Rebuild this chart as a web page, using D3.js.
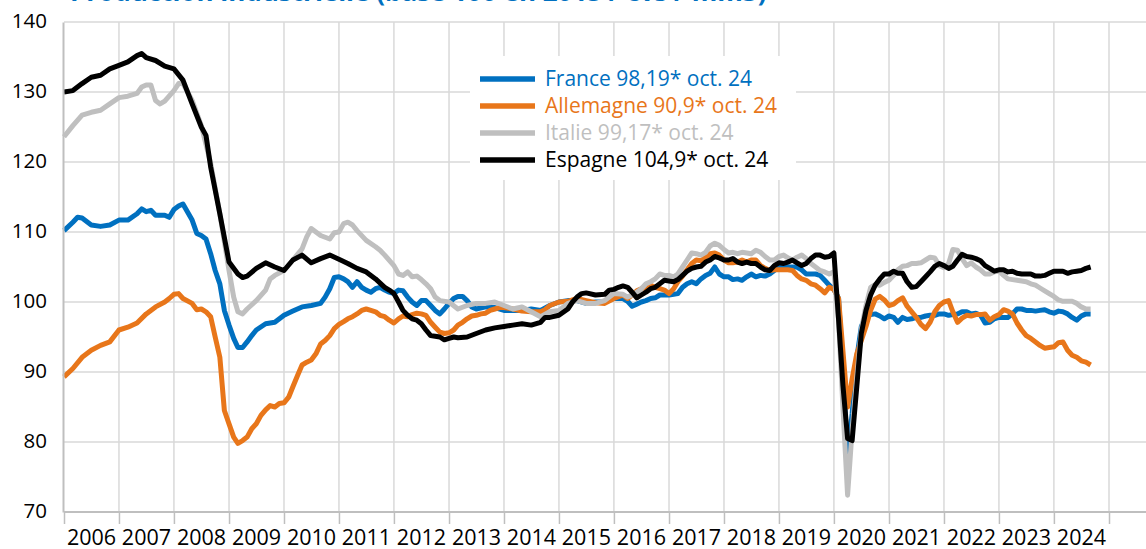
<!DOCTYPE html>
<html>
<head>
<meta charset="utf-8">
<script src="https://cdn.jsdelivr.net/npm/d3@7"></script>
<style>
  html, body { margin: 0; padding: 0; background: #fff; }
  svg { display: block; font-family: "Open Sans", sans-serif; }
</style>
</head>
<body>
<svg id="vis-ip" width="1146" height="549"></svg>
<script>

const years = d3.range(2006, 2025);
const yTicks = [70, 80, 90, 100, 110, 120, 130, 140];

const legendLabels = [
    'France 98,19* oct. 24',
    'Allemagne 90,9* oct. 24',
    'Italie 99,17* oct. 24',
    'Espagne 104,9* oct. 24'
];

const france = [
    ['2006-01',110.2],['2006-03',111.4],['2006-04',112.1],['2006-05',112.0],['2006-07',111.0],['2006-09',110.8],['2006-11',111.0],
    ['2007-01',111.7],['2007-03',111.7],['2007-05',112.6],['2007-06',113.3],['2007-07',112.9],['2007-08',113.1],['2007-09',112.4],['2007-11',112.4],['2007-12',112.1],
    ['2008-01',113.2],['2008-02',113.7],['2008-03',114.0],['2008-05',111.7],['2008-06',109.8],['2008-07',109.5],['2008-08',109.0],['2008-09',106.9],['2008-10',104.5],['2008-11',102.6],['2008-12',98.8],
    ['2009-01',96.7],['2009-02',94.8],['2009-03',93.5],['2009-04',93.5],['2009-05',94.3],['2009-06',95.2],['2009-07',96.0],['2009-09',96.9],['2009-11',97.1],
    ['2010-01',98.1],['2010-03',98.7],['2010-05',99.3],['2010-07',99.5],['2010-09',99.8],['2010-10',100.7],['2010-11',101.9],['2010-12',103.5],
    ['2011-01',103.6],['2011-02',103.3],['2011-03',102.9],['2011-04',102.1],['2011-05',102.9],['2011-06',102.1],['2011-07',101.7],['2011-08',101.4],['2011-09',101.9],['2011-10',102.1],['2011-11',101.7],['2011-12',101.4],
    ['2012-01',101.2],['2012-02',101.7],['2012-03',101.6],['2012-04',100.7],['2012-05',100.0],['2012-06',99.5],['2012-07',100.2],['2012-08',100.2],['2012-09',99.5],['2012-10',98.8],['2012-11',98.3],['2012-12',99.0],
    ['2013-01',99.8],['2013-02',100.5],['2013-03',100.8],['2013-04',100.8],['2013-05',100.2],['2013-06',99.3],['2013-07',99.0],['2013-09',99.3],['2013-11',99.2],
    ['2014-01',98.8],['2014-03',98.8],['2014-05',98.8],['2014-07',99.0],['2014-09',98.8],['2014-11',99.5],
    ['2015-01',100.0],['2015-03',100.2],['2015-05',100.2],['2015-07',99.8],['2015-09',100.0],['2015-11',100.0],
    ['2016-01',100.5],['2016-03',100.5],['2016-04',100.1],['2016-05',99.4],['2016-06',99.7],['2016-07',100.0],['2016-08',100.2],['2016-09',100.5],['2016-10',100.6],['2016-11',101.0],['2016-12',101.0],
    ['2017-01',101.0],['2017-02',101.1],['2017-03',101.2],['2017-04',102.1],['2017-05',102.6],['2017-06',102.9],['2017-07',102.6],['2017-08',103.3],['2017-09',103.8],['2017-10',104.1],['2017-11',105.0],['2017-12',104.0],
    ['2018-01',103.6],['2018-02',103.6],['2018-03',103.2],['2018-04',103.3],['2018-05',103.1],['2018-06',103.6],['2018-07',104.0],['2018-08',103.6],['2018-09',103.8],['2018-10',103.7],['2018-11',104.0],['2018-12',104.5],
    ['2019-01',105.0],['2019-02',105.1],['2019-03',105.0],['2019-04',105.0],['2019-05',105.0],['2019-06',104.6],['2019-07',104.0],['2019-08',104.0],['2019-09',104.0],['2019-10',103.8],['2019-11',103.1],['2019-12',102.4],
    ['2020-01',101.8],['2020-02',100.5],['2020-03',90.0],['2020-04',78.1],['2020-05',84.0],['2020-06',92.0],['2020-07',96.5],['2020-08',98.0],['2020-09',98.2],['2020-10',98.3],['2020-11',98.0],['2020-12',97.6],
    ['2021-01',98.0],['2021-02',97.8],['2021-03',97.1],['2021-04',97.8],['2021-05',97.5],['2021-06',97.6],['2021-07',97.8],['2021-08',97.8],['2021-09',98.0],['2021-10',98.1],['2021-11',98.1],['2021-12',98.3],
    ['2022-01',98.3],['2022-02',98.1],['2022-03',98.2],['2022-04',98.3],['2022-05',98.6],['2022-06',98.6],['2022-07',98.3],['2022-08',98.4],['2022-09',98.1],['2022-10',97.0],['2022-11',97.1],['2022-12',97.6],
    ['2023-01',97.8],['2023-02',97.8],['2023-03',97.8],['2023-04',98.3],['2023-05',99.0],['2023-06',99.0],['2023-07',98.8],['2023-08',98.8],['2023-09',98.7],['2023-10',98.8],['2023-11',98.9],['2023-12',98.6],
    ['2024-01',98.4],['2024-02',98.7],['2024-03',98.6],['2024-04',98.3],['2024-05',97.8],['2024-06',97.4],['2024-07',98.0],['2024-08',98.3],['2024-09',98.3]
];

const allemagne = [
    ['2006-01',89.3],['2006-03',90.5],['2006-05',92.1],['2006-07',93.1],['2006-09',93.8],['2006-11',94.3],
    ['2007-01',96.0],['2007-03',96.4],['2007-05',97.0],['2007-07',98.3],['2007-09',99.3],['2007-11',100.0],['2007-12',100.5],
    ['2008-01',101.1],['2008-02',101.2],['2008-03',100.5],['2008-05',99.8],['2008-06',98.9],['2008-07',99.0],['2008-08',98.6],['2008-09',97.9],['2008-10',95.0],['2008-11',92.1],['2008-12',84.5],
    ['2009-01',82.6],['2009-02',80.7],['2009-03',79.8],['2009-04',80.2],['2009-05',80.7],['2009-06',81.9],['2009-07',82.6],['2009-08',83.8],['2009-09',84.6],['2009-10',85.2],['2009-11',85.0],['2009-12',85.5],
    ['2010-01',85.6],['2010-02',86.4],['2010-03',87.9],['2010-04',89.5],['2010-05',91.0],['2010-06',91.4],['2010-07',91.7],['2010-08',92.6],['2010-09',94.0],['2010-10',94.5],['2010-11',95.2],['2010-12',96.2],
    ['2011-01',96.8],['2011-02',97.2],['2011-03',97.6],['2011-04',97.9],['2011-05',98.3],['2011-06',98.8],['2011-07',99.0],['2011-08',98.8],['2011-09',98.6],['2011-10',98.1],['2011-11',97.9],['2011-12',97.4],
    ['2012-01',97.0],['2012-02',97.6],['2012-03',98.0],['2012-04',97.9],['2012-05',98.2],['2012-06',98.4],['2012-07',98.3],['2012-08',98.1],['2012-09',97.1],['2012-10',96.4],['2012-11',95.7],['2012-12',95.5],
    ['2013-01',95.6],['2013-02',96.0],['2013-03',96.7],['2013-04',97.1],['2013-05',97.6],['2013-06',98.0],['2013-07',98.1],['2013-08',98.3],['2013-09',98.4],['2013-10',98.8],['2013-11',99.0],['2013-12',99.2],
    ['2014-01',99.2],['2014-03',99.0],['2014-05',98.7],['2014-07',98.6],['2014-09',98.6],['2014-10',98.9],['2014-11',99.5],
    ['2015-01',100.0],['2015-03',100.1],['2015-05',100.5],['2015-07',100.2],['2015-09',99.9],['2015-11',99.8],
    ['2016-01',100.5],['2016-03',101.0],['2016-04',100.5],['2016-05',101.0],['2016-06',101.6],['2016-07',101.9],['2016-08',102.1],['2016-09',102.4],['2016-10',102.1],['2016-11',101.9],['2016-12',101.7],
    ['2017-01',101.2],['2017-02',101.9],['2017-03',102.9],['2017-04',103.7],['2017-05',104.6],['2017-06',105.5],['2017-07',106.0],['2017-08',105.9],['2017-09',106.4],['2017-10',106.9],['2017-11',107.0],['2017-12',106.7],
    ['2018-01',106.0],['2018-02',105.6],['2018-03',105.6],['2018-04',105.7],['2018-05',106.0],['2018-06',105.7],['2018-07',106.0],['2018-08',106.0],['2018-09',105.2],['2018-10',104.8],['2018-11',104.5],['2018-12',104.6],
    ['2019-01',104.6],['2019-02',104.6],['2019-03',104.6],['2019-04',104.5],['2019-05',103.8],['2019-06',103.3],['2019-07',103.1],['2019-08',102.6],['2019-09',102.4],['2019-10',101.9],['2019-11',101.3],['2019-12',102.1],
    ['2020-01',101.8],['2020-02',100.5],['2020-03',93.0],['2020-04',85.0],['2020-05',89.0],['2020-06',92.6],['2020-07',94.5],['2020-08',96.5],['2020-09',98.8],['2020-10',100.4],['2020-11',100.8],['2020-12',100.3],
    ['2021-01',99.5],['2021-02',99.7],['2021-03',100.2],['2021-04',100.6],['2021-05',99.4],['2021-06',98.6],['2021-07',97.8],['2021-08',96.8],['2021-09',96.2],['2021-10',97.1],['2021-11',98.6],['2021-12',99.5],
    ['2022-01',100.0],['2022-02',100.2],['2022-03',98.6],['2022-04',97.1],['2022-05',97.7],['2022-06',98.1],['2022-07',98.0],['2022-08',98.2],['2022-09',98.2],['2022-10',98.3],['2022-11',97.4],['2022-12',97.9],
    ['2023-01',98.2],['2023-02',98.9],['2023-03',98.7],['2023-04',98.3],['2023-05',97.0],['2023-06',96.0],['2023-07',95.2],['2023-08',94.8],['2023-09',94.3],['2023-10',93.8],['2023-11',93.4],['2023-12',93.5],
    ['2024-01',93.6],['2024-02',94.2],['2024-03',94.3],['2024-04',93.1],['2024-05',92.4],['2024-06',92.1],['2024-07',91.6],['2024-08',91.4],['2024-09',91.0]
];

const italie = [
    ['2006-01',123.6],['2006-03',125.2],['2006-05',126.7],['2006-07',127.1],['2006-09',127.4],['2006-11',128.3],
    ['2007-01',129.2],['2007-03',129.4],['2007-05',129.8],['2007-06',130.7],['2007-07',131.0],['2007-08',131.0],['2007-09',128.8],['2007-10',128.3],['2007-11',128.7],
    ['2008-01',130.2],['2008-02',131.2],['2008-03',131.2],['2008-05',128.8],['2008-07',125.2],['2008-09',119.8],['2008-11',112.6],
    ['2009-01',104.5],['2009-02',100.7],['2009-03',98.6],['2009-04',98.3],['2009-05',99.0],['2009-07',100.2],['2009-09',101.7],['2009-10',103.3],['2009-11',103.8],
    ['2010-01',104.5],['2010-03',106.0],['2010-05',107.6],['2010-06',109.3],['2010-07',110.5],['2010-09',109.5],['2010-11',109.0],['2010-12',109.9],
    ['2011-01',110.0],['2011-02',111.2],['2011-03',111.4],['2011-04',111.0],['2011-05',110.2],['2011-07',108.8],['2011-09',107.9],['2011-10',107.4],['2011-11',106.7],
    ['2012-01',105.2],['2012-02',104.0],['2012-03',103.8],['2012-04',104.3],['2012-05',103.6],['2012-06',103.7],['2012-07',103.2],['2012-08',102.6],['2012-09',101.9],['2012-10',100.7],['2012-11',100.2],
    ['2013-01',100.0],['2013-03',99.0],['2013-05',99.5],['2013-07',99.8],['2013-09',99.8],['2013-11',100.0],
    ['2014-01',99.5],['2014-03',99.0],['2014-05',99.3],['2014-07',98.6],['2014-09',97.9],['2014-11',98.6],
    ['2015-01',98.8],['2015-03',99.8],['2015-05',100.2],['2015-07',99.8],['2015-09',99.8],['2015-11',100.2],
    ['2016-01',101.2],['2016-03',101.1],['2016-04',100.7],['2016-05',101.0],['2016-06',101.4],['2016-07',101.9],['2016-08',102.6],['2016-09',102.9],['2016-10',103.3],['2016-11',104.0],['2016-12',103.8],
    ['2017-01',103.8],['2017-02',103.6],['2017-03',104.0],['2017-04',105.0],['2017-05',106.0],['2017-06',107.0],['2017-07',106.9],['2017-08',106.7],['2017-09',107.1],['2017-10',108.0],['2017-11',108.4],['2017-12',108.1],
    ['2018-01',107.5],['2018-02',107.0],['2018-03',107.1],['2018-04',106.9],['2018-05',107.1],['2018-06',107.0],['2018-07',106.9],['2018-08',107.4],['2018-09',107.1],['2018-10',106.5],['2018-11',106.0],['2018-12',106.0],
    ['2019-01',106.5],['2019-02',106.7],['2019-03',106.3],['2019-04',106.0],['2019-05',106.4],['2019-06',106.7],['2019-07',106.2],['2019-08',105.5],['2019-09',105.0],['2019-10',104.5],['2019-11',104.3],['2019-12',104.0],
    ['2020-01',104.3],['2020-02',97.4],['2020-03',85.0],['2020-04',72.4],['2020-05',81.7],['2020-06',89.3],['2020-07',96.0],['2020-08',99.5],['2020-09',102.1],['2020-10',102.5],['2020-11',102.4],['2020-12',102.8],
    ['2021-01',103.1],['2021-02',103.8],['2021-03',104.6],['2021-04',105.1],['2021-05',105.2],['2021-06',105.5],['2021-07',105.5],['2021-08',105.6],['2021-09',106.0],['2021-10',106.4],['2021-11',106.3],['2021-12',105.2],
    ['2022-01',104.9],['2022-02',105.5],['2022-03',107.5],['2022-04',107.4],['2022-05',106.2],['2022-06',105.2],['2022-07',105.6],['2022-08',105.0],['2022-09',104.6],['2022-10',104.0],['2022-11',104.0],['2022-12',104.3],
    ['2023-01',104.4],['2023-02',103.8],['2023-03',103.3],['2023-04',103.2],['2023-05',103.1],['2023-06',103.0],['2023-07',102.9],['2023-08',102.6],['2023-09',102.4],['2023-10',102.0],['2023-11',101.6],['2023-12',101.2],
    ['2024-01',100.8],['2024-02',100.3],['2024-03',100.1],['2024-04',100.1],['2024-05',100.1],['2024-06',99.8],['2024-07',99.3],['2024-08',99.0],['2024-09',99.0]
];

const espagne = [
    ['2006-01',130.0],['2006-03',130.2],['2006-05',131.2],['2006-07',132.1],['2006-09',132.4],['2006-11',133.3],
    ['2007-01',133.8],['2007-03',134.3],['2007-05',135.2],['2007-06',135.5],['2007-07',134.9],['2007-09',134.5],['2007-11',133.7],
    ['2008-01',133.3],['2008-03',131.7],['2008-05',128.3],['2008-07',125.0],['2008-08',123.8],['2008-09',119.3],['2008-11',112.6],
    ['2009-01',105.7],['2009-03',104.0],['2009-04',103.5],['2009-05',103.7],['2009-07',104.8],['2009-09',105.6],['2009-11',105.0],
    ['2010-01',104.5],['2010-03',106.0],['2010-05',106.7],['2010-07',105.6],['2010-09',106.2],['2010-11',106.7],
    ['2011-01',106.1],['2011-03',105.5],['2011-05',104.8],['2011-07',104.3],['2011-09',103.3],['2011-11',102.1],['2011-12',101.7],
    ['2012-01',101.2],['2012-02',100.0],['2012-03',98.8],['2012-04',98.1],['2012-05',97.6],['2012-06',97.4],['2012-07',96.9],['2012-08',96.0],['2012-09',95.2],['2012-10',95.1],['2012-11',95.0],['2012-12',94.6],
    ['2013-01',94.8],['2013-02',95.0],['2013-03',94.9],['2013-05',95.0],['2013-07',95.5],['2013-09',96.0],['2013-11',96.3],
    ['2014-01',96.5],['2014-03',96.7],['2014-05',96.9],['2014-07',96.7],['2014-09',97.1],['2014-10',97.8],['2014-11',97.8],
    ['2015-01',98.1],['2015-03',99.0],['2015-04',100.0],['2015-05',100.7],['2015-06',101.2],['2015-07',101.3],['2015-09',101.0],['2015-11',101.1],['2015-12',101.7],
    ['2016-01',101.8],['2016-02',102.1],['2016-03',102.3],['2016-04',102.1],['2016-05',101.4],['2016-06',100.6],['2016-07',101.0],['2016-08',101.4],['2016-09',101.9],['2016-10',102.1],['2016-11',102.6],['2016-12',103.1],
    ['2017-01',103.0],['2017-02',102.9],['2017-03',103.2],['2017-04',103.8],['2017-05',104.4],['2017-06',104.8],['2017-07',105.0],['2017-08',105.1],['2017-09',105.7],['2017-10',106.0],['2017-11',106.5],['2017-12',106.3],
    ['2018-01',106.0],['2018-02',106.0],['2018-03',106.2],['2018-04',105.7],['2018-05',105.5],['2018-06',105.7],['2018-07',105.5],['2018-08',105.5],['2018-09',105.0],['2018-10',104.6],['2018-11',104.5],['2018-12',105.2],
    ['2019-01',105.6],['2019-02',105.5],['2019-03',105.7],['2019-04',106.0],['2019-05',105.6],['2019-06',105.2],['2019-07',105.5],['2019-08',106.2],['2019-09',106.7],['2019-10',106.7],['2019-11',106.4],['2019-12',106.5],
    ['2020-01',107.0],['2020-02',97.5],['2020-03',88.1],['2020-04',80.5],['2020-05',80.2],['2020-06',87.9],['2020-07',95.5],['2020-08',98.8],['2020-09',101.0],['2020-10',102.4],['2020-11',103.3],['2020-12',104.0],
    ['2021-01',104.0],['2021-02',104.4],['2021-03',104.1],['2021-04',104.1],['2021-05',102.9],['2021-06',102.1],['2021-07',102.2],['2021-08',102.9],['2021-09',103.6],['2021-10',104.3],['2021-11',105.1],['2021-12',105.5],
    ['2022-01',105.2],['2022-02',104.8],['2022-03',105.1],['2022-04',106.0],['2022-05',106.8],['2022-06',106.5],['2022-07',106.4],['2022-08',106.2],['2022-09',105.9],['2022-10',105.2],['2022-11',104.8],['2022-12',104.4],
    ['2023-01',104.6],['2023-02',104.6],['2023-03',104.3],['2023-04',104.4],['2023-05',104.1],['2023-06',104.0],['2023-07',104.0],['2023-08',104.0],['2023-09',103.7],['2023-10',103.7],['2023-11',103.8],['2023-12',104.1],
    ['2024-01',104.4],['2024-02',104.4],['2024-03',104.4],['2024-04',104.1],['2024-05',104.3],['2024-06',104.4],['2024-07',104.5],['2024-08',104.8],['2024-09',105.0]
];

const chart = {

    dims : {
        width : 1146,
        height : 549,
        left : 64,
        right : 1146,
        top : 22,
        bottom : 512
    },

    colors : ['#0070C0', '#E8761A', '#BFBFBF', '#000000'],

    parse : d3.timeParse('%Y-%m'),

    scales : {

        x : () => d3.scaleTime()
            .domain([new Date(2006, 0, 1), new Date(2025, 0, 1)])
            .range([chart.dims.left, 1109]),

        y : () => d3.scaleLinear()
            .domain([70, 140])
            .range([chart.dims.bottom, chart.dims.top])

    },

    render : {

        title : function(svg) {

            // the title is cut off by the frame: only its lower edge shows
            svg.append('text')
                .attr('x', 70)
                .attr('y', 1)
                .attr('fill', '#0070C0')
                .attr('font-size', 26)
                .attr('font-weight', 'bold')
                .text('Production industrielle (base 100 en 2015 / cvs / mm3)');

        },

        grid : function(svg) {

            let x = chart.scales.x();
            let y = chart.scales.y();
            let d = chart.dims;

            let g = svg.append('g').attr('class', 'grid');

            g.selectAll('line.h')
                .data(yTicks.filter(v => v > 70))
                .join('line')
                .attr('class', 'h')
                .attr('x1', d.left)
                .attr('x2', d.right)
                .attr('y1', v => y(v))
                .attr('y2', v => y(v))
                .attr('stroke', '#d9d9d9')
                .attr('stroke-width', 1.5);

            g.selectAll('line.v')
                .data(years.slice(1).concat([2025]))
                .join('line')
                .attr('class', 'v')
                .attr('x1', yr => x(new Date(yr, 0, 1)))
                .attr('x2', yr => x(new Date(yr, 0, 1)))
                .attr('y1', d.top)
                .attr('y2', d.bottom)
                .attr('stroke', '#d9d9d9')
                .attr('stroke-width', 1.5);

        },

        axes : function(svg) {

            let x = chart.scales.x();
            let y = chart.scales.y();
            let d = chart.dims;

            // bottom axis: ticks at each 1st January, labels in the middle of the year
            let xAxis = d3.axisBottom(x)
                .tickValues(years.concat([2025]).map(yr => new Date(yr, 0, 1)))
                .tickSize(12)
                .tickFormat('');

            let gx = svg.append('g')
                .attr('transform', `translate(0,${d.bottom})`)
                .call(xAxis);

            gx.select('.domain').remove();
            gx.selectAll('.tick line').attr('stroke', '#bfbfbf').attr('stroke-width', 1.5);

            gx.append('line')
                .attr('x1', d.left).attr('x2', d.right)
                .attr('stroke', '#bfbfbf').attr('stroke-width', 2);

            svg.append('g')
                .selectAll('text')
                .data(years)
                .join('text')
                .attr('x', yr => (x(new Date(yr, 0, 1)) + x(new Date(yr + 1, 0, 1))) / 2)
                .attr('y', 545)
                .attr('text-anchor', 'middle')
                .attr('font-size', 21.5)
                .attr('fill', '#000')
                .text(yr => yr);

            // left axis
            let yAxis = d3.axisLeft(y)
                .tickValues(yTicks)
                .tickSize(0)
                .tickPadding(16);

            let gy = svg.append('g')
                .attr('transform', `translate(${d.left - 1},0)`)
                .call(yAxis);

            gy.select('.domain').attr('stroke', '#bfbfbf').attr('stroke-width', 2);
            gy.selectAll('.tick text')
                .attr('font-size', 20.5)
                .attr('font-family', '"Open Sans", sans-serif')
                .attr('fill', '#000')
                .attr('dy', '0.25em');

        },

        lines : function(svg) {

            let x = chart.scales.x();
            let y = chart.scales.y();

            let line = d3.line()
                .x(p => x(chart.parse(p[0])))
                .y(p => y(p[1]));

            svg.append('g')
                .selectAll('path')
                .data([france, allemagne, italie, espagne])
                .join('path')
                .attr('fill', 'none')
                .attr('stroke', (s, i) => chart.colors[i])
                .attr('stroke-width', 5)
                .attr('stroke-linejoin', 'round')
                .attr('d', line);

        },

        legend : function(svg) {

            let g = svg.append('g').attr('class', 'legend');

            g.append('rect')
                .attr('x', 470).attr('y', 56)
                .attr('width', 326).attr('height', 124)
                .attr('fill', '#fff');

            let rows = g.selectAll('g.row')
                .data(legendLabels)
                .join('g')
                .attr('class', 'row')
                .attr('transform', (t, i) => `translate(480,${79 + i * 27})`);

            rows.append('line')
                .attr('x1', 0).attr('x2', 55)
                .attr('stroke', (t, i) => chart.colors[i])
                .attr('stroke-width', 5.5);

            rows.append('text')
                .attr('x', 65)
                .attr('y', 7)
                .attr('font-size', 21)
                .attr('fill', (t, i) => chart.colors[i])
                .text(t => t);

        }

    },

    ctrl : {

        init : function() {

            let svg = d3.select('svg#vis-ip');

            svg.append('rect')
                .attr('width', chart.dims.width)
                .attr('height', chart.dims.height)
                .attr('fill', '#fff');

            chart.render.title(svg);
            chart.render.grid(svg);
            chart.render.lines(svg);
            chart.render.axes(svg);
            chart.render.legend(svg);

        }

    }

}

chart.ctrl.init();
</script>
</body>
</html>
